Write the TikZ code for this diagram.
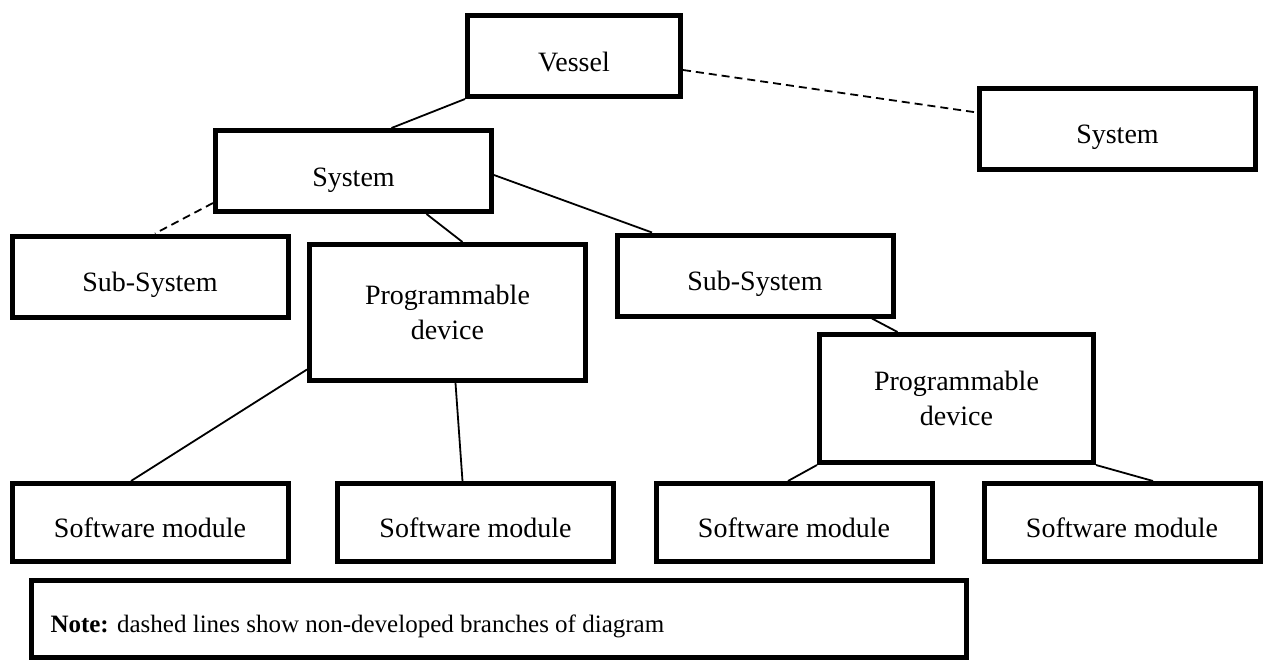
\documentclass[tikz,border=0pt]{standalone}
\usepackage{fontspec}
\setmainfont{Liberation Serif}
\usetikzlibrary{calc}

\begin{document}
\begin{tikzpicture}[x=1pt,y=-1pt]

\tikzset{box/.style = {shape=rectangle,draw,line width=5pt,inner sep=0pt,minimum width=276pt,minimum height=81pt,align=center,font=\fontsize{28}{35}\selectfont}}
\tikzset{oneline/.style = {text height=30pt,text depth=0pt}}
\tikzset{edge/.style = {line width=1.8pt}}
\tikzset{branch/.style = {edge,dash pattern=on 8pt off 5pt}}
\useasboundingbox (0,0) rectangle (1264,662);
%verticies
\node[box, oneline, minimum width=213pt] (vessel) at (574,56) {Vessel};
\node[box, oneline] (sysR) at (1117.5,128.5) {System};
\node[box, oneline] (sys) at (353.5,171) {System};
\node[box, oneline] (subL) at (150,276.5) {Sub-System};
\node[box, minimum height=136pt] (pd1) at (447.5,312.5) {Programmable\\device};
\node[box, oneline] (subR) at (755,275.5) {Sub-System};
\node[box, minimum width=274pt, minimum height=128pt] (pd2) at (956.5,398.5) {Programmable\\device};
\node[box, oneline, minimum height=78pt] (sw1) at (150,522.5) {Software module};
\node[box, oneline, minimum height=78pt] (sw2) at (475.5,522.5) {Software module};
\node[box, oneline, minimum height=78pt] (sw3) at (794,522.5) {Software module};
\node[box, oneline, minimum height=78pt] (sw4) at (1122,522.5) {Software module};
\node[box, text height=27pt, text depth=0pt, inner xsep=19pt, text width=897pt, minimum height=77pt, align=flush left, font=\fontsize{25}{30}\selectfont] (note) at (499,619) {\textbf{Note:} dashed lines show non-developed branches of diagram};
%edges
\draw [edge] (vessel.south west) -- ([xshift=38pt]sys.north);
\draw [branch] ([yshift=-14pt]vessel.east) -- ([yshift=16pt]sysR.west);
\draw [branch] ([yshift=-32pt]sys.west) -- ([xshift=5pt]subL.north);
\draw [edge] ([xshift=73pt]sys.south) -- ([xshift=15pt]pd1.north);
\draw [edge] ([yshift=-4pt]sys.east) -- ([xshift=-103pt]subR.north);
\draw [edge] ([yshift=-57pt]pd1.west) -- ([xshift=-19pt]sw1.north);
\draw [edge] ([xshift=8pt]pd1.south) -- ([xshift=-13pt]sw2.north);
\draw [edge] ([xshift=117pt]subR.south) -- ([xshift=-59pt]pd2.north);
\draw [edge] (pd2.south west) -- ([xshift=-6pt]sw3.north);
\draw [edge] (pd2.south east) -- ([xshift=31pt]sw4.north);

\end{tikzpicture}
\end{document}
